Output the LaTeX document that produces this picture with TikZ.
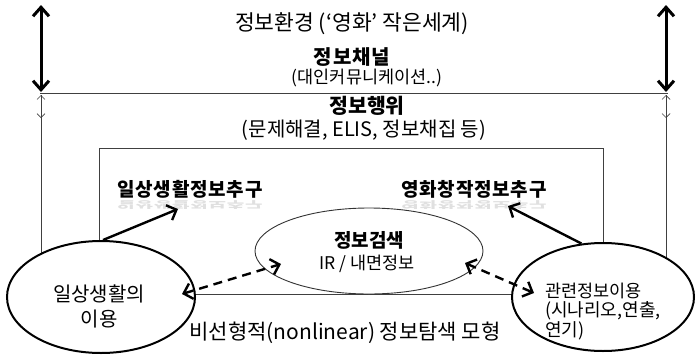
\documentclass[tikz,border=0pt]{standalone}
\usepackage{fontspec}
\setmainfont{Noto Sans CJK KR}
\usetikzlibrary{arrows.meta,shapes.geometric}
\begin{document}
\begin{tikzpicture}[x=1pt,y=-1pt,
  thinln/.style={line width=0.9pt, draw=black!75},
  bigarrow/.style={line width=3pt, {Straight Barb[length=9pt,width=16pt,line width=3pt]}-{Straight Barb[length=9pt,width=16pt,line width=3pt]}},
  smallarrow/.style={line width=0.7pt, draw=black!75, {Straight Barb[length=4pt,width=8pt]}-{Straight Barb[length=4pt,width=8pt]}},
  solidarrow/.style={line width=2.4pt, -{Straight Barb[length=8pt,width=16pt,line width=2.4pt]}},
  dasharrow/.style={line width=2.4pt, dash pattern=on 9pt off 6pt, {Straight Barb[length=8pt,width=16pt,line width=2.4pt]}-{Straight Barb[length=8pt,width=16pt,line width=2.4pt]}},
  oval/.style={ellipse, draw, fill=white, inner sep=0pt},
  txt/.style={inner sep=0pt},
]
\useasboundingbox (0,0) rectangle (696,356);
% top line and side lines
\coordinate (tl) at (40,93);
\coordinate (tr) at (668,93);
\draw[thinln] (tl) -- (tr);
\coordinate (la) at (41,95);
\coordinate (lb) at (41,118);
\coordinate (lc) at (41,270);
\coordinate (ra) at (666,95);
\coordinate (rb) at (666,118);
\coordinate (rc) at (666,270);
\draw[thinln] (la) -- (lc);
\draw[thinln] (ra) -- (rc);
\draw[smallarrow] (la) -- (lb);
\draw[smallarrow] (ra) -- (rb);
% big arrows
\coordinate (lt) at (41,5);
\coordinate (lbig) at (41,92);
\coordinate (rt) at (666,5);
\coordinate (rbig) at (666,92);
\draw[bigarrow] (lt) -- (lbig);
\draw[bigarrow] (rt) -- (rbig);
% inner rectangle
\coordinate (r1) at (99,148);
\coordinate (r2) at (603,294);
\draw[thinln] (r1) rectangle (r2);
% ellipses
\node[oval, line width=2pt, minimum width=188, minimum height=112] (L) at (101,297) {};
\node[oval, line width=2pt, minimum width=182, minimum height=108] (R) at (603,297) {};
\node[oval, line width=0.9pt, draw=black!80, minimum width=228, minimum height=86] (C) at (369,251) {};
% texts
\node[txt, font=\fontsize{21.5}{24}\selectfont] (t1) at (352,24) {정보환경 (‘영화’ 작은세계)};
\node[txt, font=\fontsize{20}{24}\selectfont\bfseries] (t2) at (352,57) {\addfontfeature{LetterSpace=5}정보채널};
\node[txt, font=\fontsize{17.5}{20}\selectfont] (t3) at (367,78) {(대인커뮤니케이션..)};
\node[txt, font=\fontsize{20.5}{24}\selectfont\bfseries] (t4) at (367,106) {정보행위};
\node[txt, font=\fontsize{20}{24}\selectfont] (t5) at (364,130) {(문제해결, ELIS, 정보채집 등)};
\node[txt, font=\fontsize{19}{24}\selectfont\bfseries] (t6) at (190,189) {\addfontfeature{LetterSpace=4}일상생활정보추구};
\node[txt, font=\fontsize{19}{24}\selectfont\bfseries, opacity=0.12, yscale=-0.5] (t6r) at (190,205) {\addfontfeature{LetterSpace=4}일상생활정보추구};
\node[txt, font=\fontsize{19}{24}\selectfont\bfseries] (t7) at (474,189) {\addfontfeature{LetterSpace=4}영화창작정보추구};
\node[txt, font=\fontsize{19}{24}\selectfont\bfseries, opacity=0.12, yscale=-0.5] (t7r) at (474,205) {\addfontfeature{LetterSpace=4}영화창작정보추구};
\node[txt, font=\fontsize{19}{24}\selectfont\bfseries] (t8) at (369,240) {정보검색};
\node[txt, font=\fontsize{17.5}{24}\selectfont] (t9) at (367,264) {IR / 내면정보};
\node[txt, align=center, font=\fontsize{20}{25}\selectfont] (t10) at (99,306) {일상생활의\\이용};
\node[txt, anchor=west, font=\fontsize{17.5}{20}\selectfont] (t11) at (545,291) {관련정보이용};
\node[txt, anchor=west, align=left, font=\fontsize{18}{20}\selectfont] (t12) at (545,321) {(시나리오,연출,\\연기)};
\node[txt, font=\fontsize{21}{24}\selectfont] (t13) at (345,333) {비선형적(nonlinear) 정보탐색 모형};
% arrows
\coordinate (a1) at (178,209);
\coordinate (a2) at (508,206);
\draw[solidarrow] (L.88) -- (a1);
\draw[solidarrow] (R.112) -- (a2);
\coordinate (d1) at (182,294);
\coordinate (d2) at (281,264);
\coordinate (d3) at (465,263);
\coordinate (d4) at (534,293);
\draw[dasharrow] (d1) -- (d2);
\draw[dasharrow] (d3) -- (d4);
\end{tikzpicture}
\end{document}
